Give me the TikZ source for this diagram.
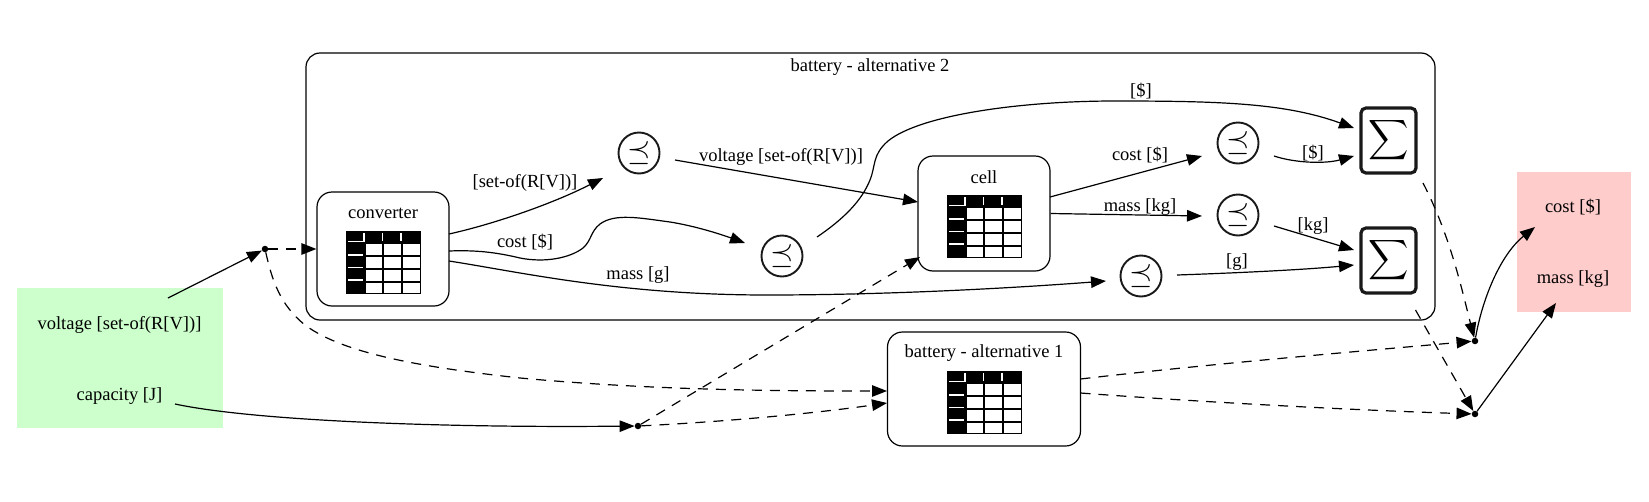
\documentclass[tikz,border=0pt]{standalone}
\usepackage{amsmath,amssymb}
\usepackage{fontspec}
\setmainfont{Liberation Serif}
\usetikzlibrary{arrows.meta,calc}
\tikzset{
  lbl/.style={inner sep=0pt,font=\fontsize{18.5}{22}\selectfont,text=black},
  roundbox/.style={draw=black,line width=1.2pt,rounded corners=15pt,inner sep=0pt,fill=white},
  cluster/.style={draw=black,line width=1.2pt,rounded corners=14pt,inner sep=0pt},
  leq/.style={draw=black!90,circle,line width=1.9pt,minimum size=41pt,inner sep=0pt},
  sumbox/.style={draw=black!90,rounded corners=5pt,line width=3.2pt,minimum width=55pt,minimum height=65pt,inner sep=0pt},
  dot/.style={circle,fill=black,minimum size=6.5pt,inner sep=0pt},
  edge/.style={line width=1.2pt,-{Triangle[length=15pt,width=11.5pt]}},
  dedge/.style={edge,dash pattern=on 10pt off 8pt},
  tableicon/.pic={
    \fill[black] (0,0) rectangle (75,63);
    \foreach \xa/\xb in {19.5/35.5,38/54.5,57/73.5}{
      \foreach \ya/\yb in {12.6/24,26/37,39/49.5,51.5/61.8}{
        \fill[white] (\xa,\ya) rectangle (\xb,\yb);
      }
    }
    \draw[white,line width=1.2pt] (2.3,10.7) -- (18,10.7) -- (18,2.3);
    \draw[white,line width=1.2pt] (36.3,2.3) -- (36.3,10);
    \draw[white,line width=1.2pt] (55,2.3) -- (55,10);
    \draw[white,line width=1.2pt] (2.3,24) -- (17,24);
    \draw[white,line width=1.2pt] (2.3,36.3) -- (17,36.3);
    \draw[white,line width=1.2pt] (2.3,49) -- (17,49);
  }
}
\newcommand{\precsym}{\scalebox{3}{$\preceq$}}
\newcommand{\sumsym}{\scalebox{2.8}{$\displaystyle\sum$}}
\begin{document}
\begin{tikzpicture}[x=1pt,y=-1pt]
\useasboundingbox (0,0) rectangle (1649,501);
\fill[white] (0,0) rectangle (1649,501);
% ports
\node[fill={rgb,255:red,204;green,255;blue,204},minimum width=206pt,minimum height=140pt,inner sep=0pt] (inbox) at (120,358) {};
\node[fill={rgb,255:red,255;green,204;blue,204},minimum width=114pt,minimum height=140pt,inner sep=0pt] (outbox) at (1574,242) {};
\node[lbl] (voltage) at (119.5,324.5) {voltage [set-of(R[V])]};
\node[lbl] (capacity) at (119.5,396.5) {capacity [J]};
\node[lbl] (cost) at (1573,207) {cost [\$]};
\node[lbl] (mass) at (1573,279.5) {mass [kg]};
% cluster
\node[cluster,minimum width=1129pt,minimum height=267pt] (alt2) at (870.5,186.5) {};
\node[lbl] (alt2lbl) at (870,67) {battery - alternative 2};
% boxes
\node[roundbox,minimum width=132pt,minimum height=114pt] (conv) at (383,249) {};
\node[lbl] (convlbl) at (383,213) {converter};
\pic at (346,231) {tableicon};
\node[roundbox,minimum width=132pt,minimum height=115pt] (cell) at (984,213.5) {};
\node[lbl] (celllbl) at (984,177) {cell};
\pic at (947,195) {tableicon};
\node[roundbox,minimum width=193pt,minimum height=114pt] (alt1) at (984,389) {};
\node[lbl] (alt1lbl) at (984,353) {battery - alternative 1};
\pic at (947,371) {tableicon};
% comparators
\node[leq] (le1) at (639,153) {\precsym};
\node[leq] (le2) at (782,256) {\precsym};
\node[leq] (le3) at (1238,143) {\precsym};
\node[leq] (le4) at (1238,215) {\precsym};
\node[leq] (le5) at (1141,276) {\precsym};
% sums
\node[sumbox] (s1) at (1388.5,140.5) {\sumsym};
\node[sumbox] (s2) at (1388.5,260.5) {\sumsym};
% junctions
\node[dot] (p1) at (265,249) {};
\node[dot] (p2) at (638,426) {};
\node[dot] (p3) at (1475,341) {};
\node[dot] (p4) at (1475,414) {};
% edges
\draw[edge] ($(voltage)+(48.5,-26.5)$) -- (p1);
\draw[dedge] (p1) -- (conv.west);
\draw[dedge] (p1) .. controls (272,280) and (280,305) .. (305,325) .. controls (345,355) and (430,368) .. (520,378) .. controls (650,390) and (770,391) .. ($(alt1)+(-97,2)$);
\draw[edge] ($(capacity)+(55.5,7.5)$) .. controls (250,420) and (430,428) .. (p2);
\draw[dedge] (p2) -- ($(cell)+(-64,43.5)$);
\draw[dedge] (p2) .. controls (720,422) and (810,414) .. ($(alt1)+(-97,14)$);
\draw[edge] ($(conv)+(66,-15)$) .. controls (490,225) and (550,205) .. ($(le1)+(-36,25)$);
\draw[edge] ($(le1)+(36,7)$) -- ($(cell)+(-66,-11.5)$);
\draw[edge] ($(conv)+(66,2)$) .. controls (475,250) and (495,252) .. (520,258) .. controls (545,263) and (570,258) .. (583,248) .. controls (592,240) and (590,232) .. (600,224) .. controls (615,213) and (640,218) .. (670,222) .. controls (695,226) and (720,234) .. ($(le2)+(-37,-13)$);
\draw[edge] ($(conv)+(66,12)$) .. controls (520,272) and (620,295) .. (767,295) .. controls (880,295) and (1000,289) .. ($(le5)+(-35,5)$);
\draw[edge] ($(le2)+(35,-19)$) .. controls (845,218) and (862,200) .. (870,180) .. controls (876,165) and (872,155) .. (888,141) .. controls (920,115) and (1020,101) .. (1115,101) .. controls (1220,101) and (1285,103) .. ($(s1)+(-34.5,-12.5)$);
\draw[edge] ($(le3)+(36,13)$) .. controls (1295,163) and (1325,164) .. ($(s1)+(-34.5,15.5)$);
\draw[edge] ($(cell)+(66,-16.5)$) -- ($(le3)+(-36,13)$);
\draw[edge] (cell.east) -- ($(le4)+(-36,1)$);
\draw[edge] ($(le4)+(36,11)$) -- ($(s2)+(-34.5,-10.5)$);
\draw[edge] ($(le5)+(36,-1)$) .. controls (1235,273) and (1300,270) .. ($(s2)+(-34.5,4.5)$);
\draw[dedge] ($(s1)+(34.5,42.5)$) .. controls (1450,235) and (1462,290) .. (p3);
\draw[dedge] ($(s2)+(27,49.5)$) -- (p4);
\draw[dedge] ($(alt1)+(96.5,-10)$) .. controls (1200,365) and (1350,352) .. (p3);
\draw[dedge] ($(alt1)+(96.5,4)$) .. controls (1200,402) and (1350,410) .. (p4);
\draw[edge] (p3) .. controls (1482,300) and (1500,255) .. ($(cost)+(-38,20)$);
\draw[edge] (p4) -- ($(mass)+(-17,23.5)$);
% edge labels
\node[lbl] (l1) at (525,183) {[set-of(R[V])]};
\node[lbl] (l2) at (525,242) {cost [\$]};
\node[lbl] (l3) at (638,275) {mass [g]};
\node[lbl] (l4) at (781,157) {voltage [set-of(R[V])]};
\node[lbl] (l5) at (1141,91) {[\$]};
\node[lbl] (l6) at (1140,155) {cost [\$]};
\node[lbl] (l7) at (1140,207) {mass [kg]};
\node[lbl] (l8) at (1313,153) {[\$]};
\node[lbl] (l9) at (1313,226.5) {[kg]};
\node[lbl] (l10) at (1237,262.5) {[g]};
\end{tikzpicture}
\end{document}
